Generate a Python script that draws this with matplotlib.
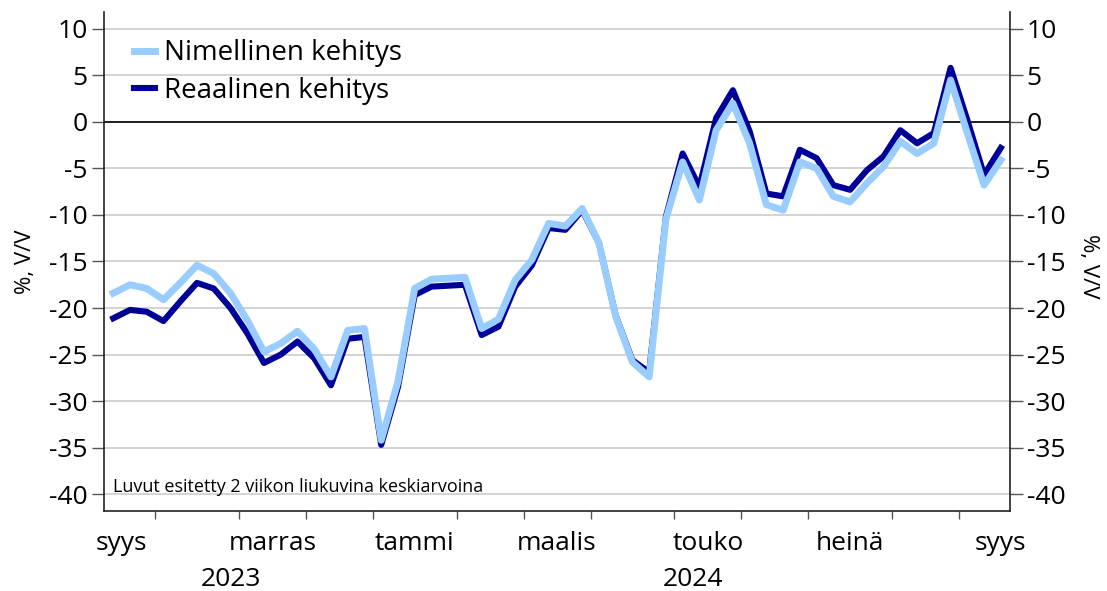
import matplotlib
matplotlib.use('Agg')
import matplotlib.pyplot as plt
import numpy as np

# viikkodata, syys 2023 - syys 2024 (2 viikon liukuva keskiarvo)
nimellinen = [-18.4, -17.5, -17.9, -19.1, -17.3, -15.4, -16.3, -18.4, -21.3, -24.7,
              -23.8, -22.5, -24.4, -27.4, -22.4, -22.2, -34.2, -27.9, -17.9, -16.9,
              -16.8, -16.7, -22.2, -21.2, -17.0, -14.8, -10.9, -11.2, -9.3, -13.0,
              -20.9, -25.8, -27.4, -10.5, -4.3, -8.4, -0.9, 2.0, -2.3, -8.9,
              -9.5, -4.3, -5.0, -8.0, -8.6, -6.6, -4.8, -2.1, -3.4, -2.3,
              4.5, -1.2, -6.8, -4.1]
reaalinen = [-21.1, -20.2, -20.4, -21.4, -19.3, -17.3, -17.9, -20.0, -22.7, -25.9,
             -25.0, -23.6, -25.4, -28.3, -23.3, -23.1, -34.7, -28.5, -18.6, -17.7,
             -17.6, -17.5, -22.9, -22.0, -17.7, -15.4, -11.4, -11.6, -9.5, -13.0,
             -20.8, -25.6, -26.9, -10.2, -3.4, -7.0, 0.4, 3.4, -1.0, -7.7,
             -8.0, -3.0, -3.9, -6.8, -7.3, -5.2, -3.7, -0.9, -2.3, -1.2,
             5.8, 0.2, -5.7, -2.8]

# kuukausien rajat viikkoindekseinä ja nimet
kk_rajat = [2.5, 7.5, 11.5, 15.5, 20.5, 24.5, 28.5, 33.5, 37.5, 41.5, 46.5, 50.5]
kk_nimet = ['syys', 'marras', 'tammi', 'maalis', 'touko', 'heinä', 'syys']
kk_keskikohdat = [0.5, 9.5, 18.0, 26.5, 35.5, 44.0, 53.0]
vuodet = ['2023', '2024']
vuosi_kohdat = [7.0, 34.6]

plt.rcParams['font.family'] = ['Open Sans', 'DejaVu Sans']
plt.rcParams['font.size'] = 19
plt.rcParams['axes.unicode_minus'] = False

vaalea = '#99ccff'
tumma = '#000099'

x = np.arange(len(nimellinen))
fig = plt.figure(figsize=(11.07, 5.91), dpi=100)
ax = fig.add_axes([0.094, 0.1354, 0.8184, 0.8443])

l2, = ax.plot(x, reaalinen, color=tumma, linewidth=4.4, zorder=3)
l1, = ax.plot(x, nimellinen, color=vaalea, linewidth=5.0, zorder=4)

ax.set_xlim(-0.55, 53.55)
ax.set_ylim(-41.8, 11.8)
ax.set_yticks(np.arange(-40, 11, 5))
ax.yaxis.grid(True, color='#cccccc', linewidth=1.2)
ax.set_axisbelow(True)
ax.axhline(0, color='k', linewidth=1.2, zorder=2)

ax.spines['top'].set_visible(False)
for s in ['left', 'right', 'bottom']:
    ax.spines[s].set_linewidth(1.2)
    ax.spines[s].set_color('#222222')

ax.tick_params(axis='y', which='both', direction='out', length=9, width=1,
               color='#555555', left=True, right=True, labelleft=True, labelright=True,
               labelsize=19, pad=3)
ax.set_xticks(kk_rajat)
ax.set_xticklabels([])
ax.tick_params(axis='x', direction='out', length=6, width=1, color='#555555')

for k, n in zip(kk_keskikohdat, kk_nimet):
    ax.text(k, -0.04, n, transform=ax.get_xaxis_transform(), ha='center', va='top', fontsize=19)
for k, v in zip(vuosi_kohdat, vuodet):
    ax.text(k, -0.112, v, transform=ax.get_xaxis_transform(), ha='center', va='top', fontsize=19)

ax.set_ylabel('%, V/V', fontsize=16, labelpad=9)
fig.text(0.983, 0.55, '%, V/V', rotation=270, fontsize=16, ha='center', va='center')

ax.text(0.01, 0.03, 'Luvut esitetty 2 viikon liukuvina keskiarvoina', transform=ax.transAxes,
        fontsize=13, ha='left', va='bottom')

ax.legend(handles=[l1, l2], labels=['Nimellinen kehitys', 'Reaalinen kehitys'],
          loc='upper left', bbox_to_anchor=(0.006, 0.995), frameon=False, fontsize=20,
          handlelength=0.75, handletextpad=0.3, labelspacing=0.35)

plt.savefig('out.png', dpi=100)
